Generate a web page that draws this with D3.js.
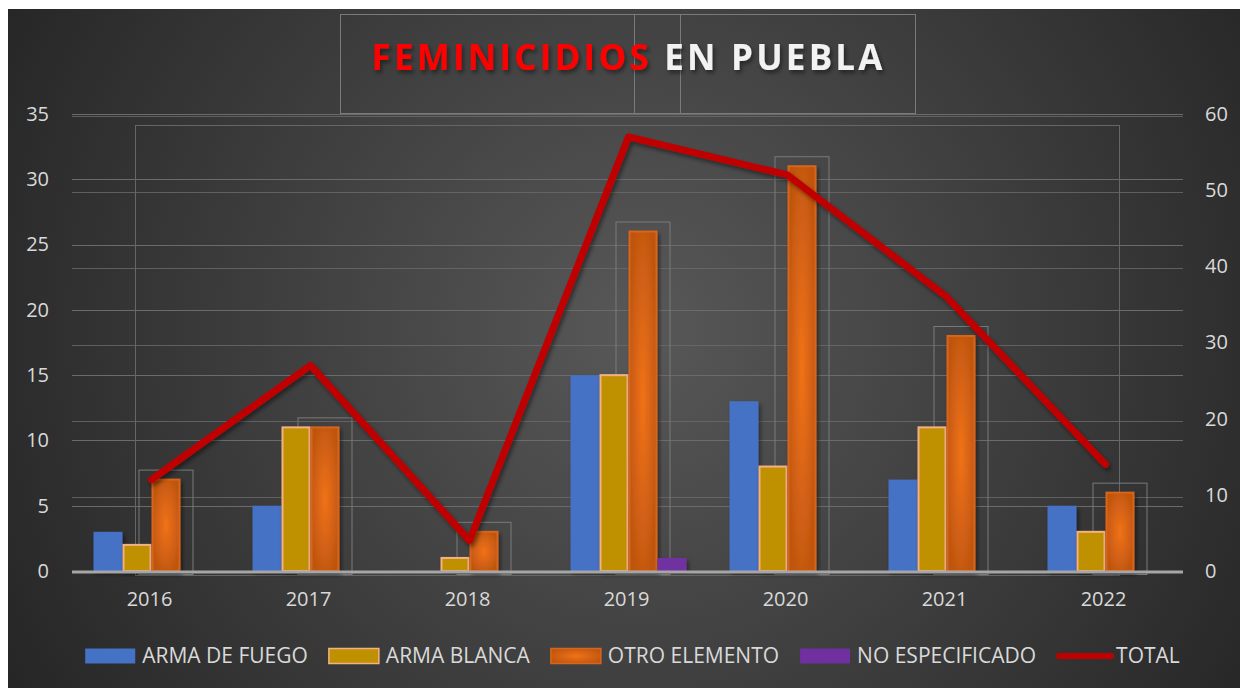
<!DOCTYPE html>
<html>
<head>
<meta charset="utf-8">
<script src="https://cdn.jsdelivr.net/npm/d3@7"></script>
<style>
  html, body { margin: 0; padding: 0; background: #fff; }
  svg { display: block; }
  text { font-family: "Open Sans", "Noto Sans", sans-serif; }
</style>
</head>
<body>
<div id="chart"></div>
<script>
const years = ['2016', '2017', '2018', '2019', '2020', '2021', '2022']
const armaFuego = [3, 5, 0, 15, 13, 7, 5]
const armaBlanca = [2, 11, 1, 15, 8, 11, 3]
const otroElemento = [7, 11, 3, 26, 31, 18, 6]
const noEspecificado = [0, 0, 0, 1, 0, 0, 0]
const total = [12, 27, 4, 57, 52, 36, 14]
const leftTicks = [0, 5, 10, 15, 20, 25, 30, 35]
const rightTicks = [0, 10, 20, 30, 40, 50, 60]
const seriesNames = ['ARMA DE FUEGO', 'ARMA BLANCA', 'OTRO ELEMENTO', 'NO ESPECIFICADO']

const width = 1240
const height = 688
const plot = {left: 70, right: 1183, top: 114, bottom: 571}
const LABEL = '#d9d9d9'
const GRID = '#6b6b6b'

const series = [
  {name: seriesNames[0], values: armaFuego, fill: '#4472c4', stroke: 'none'},
  {name: seriesNames[1], values: armaBlanca, fill: '#bf9000', stroke: '#f4b183'},
  {name: seriesNames[2], values: otroElemento, fill: 'url(#orangeGrad)', stroke: '#d8651c'},
  {name: seriesNames[3], values: noEspecificado, fill: '#7030a0', stroke: 'none'}
]

const svg = d3.select('#chart').append('svg').attr('width', width).attr('height', height)
const defs = svg.append('defs')

const bg = defs.append('radialGradient').attr('id', 'bgGrad')
  .attr('gradientUnits', 'userSpaceOnUse').attr('cx', 640).attr('cy', 330).attr('r', 720)
bg.append('stop').attr('offset', '0%').attr('stop-color', '#585858')
bg.append('stop').attr('offset', '100%').attr('stop-color', '#262626')

const og = defs.append('radialGradient').attr('id', 'orangeGrad')
  .attr('cx', '50%').attr('cy', '50%').attr('r', '60%')
og.append('stop').attr('offset', '0%').attr('stop-color', '#f07219')
og.append('stop').attr('offset', '100%').attr('stop-color', '#bd540f')

const sh = defs.append('filter').attr('id', 'shadow').attr('x', '-20%').attr('y', '-20%').attr('width', '140%').attr('height', '140%')
sh.append('feDropShadow').attr('dx', 2).attr('dy', 3).attr('stdDeviation', 2).attr('flood-color', '#000').attr('flood-opacity', 0.45)

// background with thin white edge top/left
svg.append('rect').attr('width', width).attr('height', height).attr('fill', '#fff')
svg.append('rect').attr('x', 8).attr('y', 9).attr('width', width - 8).attr('height', height - 9).attr('fill', 'url(#bgGrad)')

const x0 = d3.scaleBand().domain(years).range([plot.left, plot.right])
const x1 = d3.scaleBand().domain(seriesNames).range([0, 116])
const groupOffset = (x0.bandwidth() - 116) / 2 + 2
const yL = d3.scaleLinear().domain([0, 35]).range([plot.bottom, plot.top])
const yR = d3.scaleLinear().domain([0, 60]).range([plot.bottom, plot.top])

// gridlines
svg.append('g').selectAll('line').data(leftTicks.slice(1)).join('line')
  .attr('x1', plot.left + 2).attr('x2', plot.right)
  .attr('y1', d => Math.round(yL(d)) + 0.5).attr('y2', d => Math.round(yL(d)) + 0.5)
  .attr('stroke', GRID).attr('stroke-width', 1)
svg.append('g').selectAll('line').data(rightTicks.slice(1)).join('line')
  .attr('x1', plot.left + 2).attr('x2', plot.right)
  .attr('y1', d => Math.round(yR(d)) + 2.5).attr('y2', d => Math.round(yR(d)) + 2.5)
  .attr('stroke', GRID).attr('stroke-width', 1).attr('opacity', 0.8)

// faint leftover frames
const frames = svg.append('g').attr('fill', 'none').attr('stroke', '#7a7a7a').attr('stroke-width', 1)
frames.append('rect').attr('x', 340.5).attr('y', 14.5).attr('width', 575).attr('height', 99)
frames.append('line').attr('x1', 634.5).attr('x2', 634.5).attr('y1', 14).attr('y2', 114)
frames.append('line').attr('x1', 680.5).attr('x2', 680.5).attr('y1', 14).attr('y2', 114)
frames.append('rect').attr('x', 135.5).attr('y', 125.5).attr('width', 984).attr('height', 450).attr('stroke', '#666')
frames.selectAll('rect.ob').data(otroElemento).join('rect').classed('ob', true)
  .attr('x', (d, i) => x0(years[i]) + groupOffset + x1(seriesNames[2]) - 12.5)
  .attr('y', d => yL(d) - 9.5)
  .attr('width', 54).attr('height', d => plot.bottom + 4 - yL(d) + 9)

// bars
const groups = svg.append('g').selectAll('g').data(years).join('g')
  .attr('transform', d => `translate(${x0(d) + groupOffset},0)`)
groups.selectAll('rect').data((d, i) => series.map(s => ({s, v: s.values[i]}))).join('rect')
  .filter(d => d.v > 0)
  .attr('x', d => x1(d.s.name) + (d.s.stroke !== 'none' ? 1 : 0))
  .attr('y', d => yL(d.v))
  .attr('width', d => x1.bandwidth() - (d.s.stroke !== 'none' ? 2 : 0))
  .attr('height', d => plot.bottom - yL(d.v))
  .attr('fill', d => d.s.fill)
  .attr('stroke', d => d.s.stroke).attr('stroke-width', 2)
  .attr('filter', 'url(#shadow)')

// baseline
svg.append('line').attr('x1', plot.left + 2).attr('x2', plot.right)
  .attr('y1', plot.bottom + 1).attr('y2', plot.bottom + 1)
  .attr('stroke', '#a6a6a6').attr('stroke-width', 3)

// total line
const line = d3.line().x((d, i) => x0(years[i]) + x0.bandwidth() / 2 + 2).y(d => yR(d))
svg.append('path').datum(total).attr('d', line)
  .attr('fill', 'none').attr('stroke', '#c00000').attr('stroke-width', 7)
  .attr('stroke-linecap', 'round').attr('stroke-linejoin', 'round')
  .attr('filter', 'url(#shadow)')

// axes
const axisL = svg.append('g').attr('transform', `translate(${plot.left - 21},0)`)
  .call(d3.axisLeft(yL).tickValues(leftTicks).tickSize(0).tickPadding(0))
const axisR = svg.append('g').attr('transform', `translate(${plot.right + 22},0)`)
  .call(d3.axisRight(yR).tickValues(rightTicks).tickSize(0).tickPadding(0))
const axisB = svg.append('g').attr('transform', `translate(0,${plot.bottom + 21})`)
  .call(d3.axisBottom(x0).tickSize(0).tickPadding(0))
;[axisL, axisR, axisB].forEach(a => {
  a.select('.domain').remove()
  a.selectAll('text').attr('fill', LABEL).attr('font-size', 20)
    .attr('font-family', '"Open Sans", "Noto Sans", sans-serif')
})
axisB.selectAll('text').attr('dy', '0.72em')

// title
const title = svg.append('text')
  .attr('x', 627).attr('y', 70).attr('text-anchor', 'middle')
  .attr('font-size', 35).attr('font-weight', 'bold')
  .attr('textLength', 511).attr('lengthAdjust', 'spacing')
  .attr('filter', 'url(#shadow)')
title.append('tspan').attr('fill', '#ff0000').text('FEMINICIDIOS')
title.append('tspan').attr('fill', '#f2f2f2').text(' EN PUEBLA')

// legend
const legendItems = series.map(s => ({name: s.name, fill: s.fill, stroke: s.stroke, type: 'rect'}))
  .concat([{name: 'TOTAL', type: 'line'}])
const legend = svg.append('g')
const LY = 656
const SW = 52
const GAP = 20
let cursor = 0
const items = legend.selectAll('g').data(legendItems).join('g')
items.each(function (d) {
  const g = d3.select(this)
  let tx = SW + 6
  if (d.type === 'rect') {
    g.append('rect').attr('x', 1).attr('y', LY - 7.5).attr('width', SW - 2).attr('height', 15)
      .attr('fill', d.fill).attr('stroke', d.stroke).attr('stroke-width', 1.5)
  } else {
    g.append('line').attr('x1', 3).attr('x2', SW + 3).attr('y1', LY).attr('y2', LY)
      .attr('stroke', '#c00000').attr('stroke-width', 6).attr('stroke-linecap', 'round')
    tx = SW + 8
  }
  const t = g.append('text').attr('x', tx).attr('y', LY).attr('dy', '0.35em')
    .attr('fill', LABEL).attr('font-size', 21).text(d.name)
  const w = tx + t.node().getComputedTextLength()
  g.attr('transform', `translate(${cursor},0)`)
  cursor += w + GAP
})
const legendWidth = cursor - GAP
legend.attr('transform', `translate(${632 - legendWidth / 2},0)`)
</script>
</body>
</html>
